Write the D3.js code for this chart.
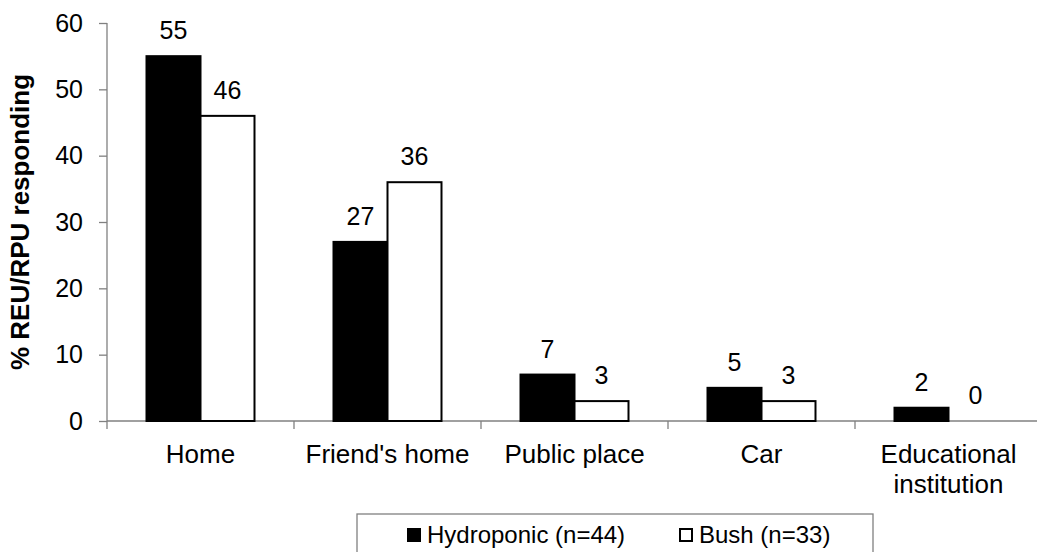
<!DOCTYPE html>
<html lang="en">
<head>
    <meta charset="UTF-8">
    <title>REU/RPU responding by location</title>
    <style>
        body { margin: 0; background: #fff; }
        svg text { font-family: "Liberation Sans", Arial, sans-serif; fill: #000; }
        .axis path, .axis line { stroke: #808080; stroke-width: 1.3px; }
        .axis text { font-size: 25px; }
        .value-label { font-size: 25px; text-anchor: middle; }
        .cat-label { font-size: 26px; text-anchor: middle; }
        .y-title { font-size: 26px; font-weight: bold; text-anchor: middle; }
        .legend text { font-size: 24px; }
    </style>
</head>
<body>
    <svg id="chart" width="1037" height="552"></svg>

    <script src="https://d3js.org/d3.v7.min.js"></script>
    <script>
        // Data
        const categories = ["Home", "Friend's home", "Public place", "Car", "Educational\ninstitution"];
        const hydroponic = [55, 27, 7, 5, 2];
        const bush = [46, 36, 3, 3, 0];
        const seriesNames = ["Hydroponic (n=44)", "Bush (n=33)"];
        const yTicks = [0, 10, 20, 30, 40, 50, 60];

        const series = [
            { name: seriesNames[0], values: hydroponic, fill: "#000" },
            { name: seriesNames[1], values: bush, fill: "#fff" }
        ];

        const svg = d3.select("#chart");
        const plot = { left: 107, right: 1042, top: 23, bottom: 421 };

        // Scales
        const x0 = d3.scaleBand()
            .domain(categories)
            .range([plot.left, plot.right])
            .paddingInner(0.4225)
            .paddingOuter(0.21125);
        const x1 = d3.scaleBand()
            .domain(series.map(s => s.name))
            .range([0, x0.bandwidth()]);
        const y = d3.scaleLinear().domain([0, 60]).range([plot.bottom, plot.top]);

        // Y axis
        svg.append("g")
            .attr("class", "axis")
            .attr("transform", `translate(${plot.left},0)`)
            .call(d3.axisLeft(y).tickValues(yTicks).tickSize(8).tickPadding(16).tickSizeOuter(0))
            .call(g => g.select(".domain").attr("d", `M0,${plot.top}V${plot.bottom}`));

        // X axis line + category boundary ticks
        const step = x0.step();
        const xAxis = svg.append("g").attr("class", "axis");
        xAxis.append("path")
            .attr("d", `M${plot.left},${plot.bottom}H${plot.right}`);
        xAxis.selectAll("line")
            .data(categories)
            .join("line")
            .attr("x1", d => x0(d) - step * x0.paddingInner() / 2)
            .attr("x2", d => x0(d) - step * x0.paddingInner() / 2)
            .attr("y1", plot.bottom)
            .attr("y2", plot.bottom + 8);

        // Bars
        series.forEach(s => {
            svg.append("g")
                .selectAll("rect")
                .data(categories)
                .join("rect")
                .attr("x", d => x0(d) + x1(s.name))
                .attr("y", (d, i) => y(s.values[i]))
                .attr("width", x1.bandwidth())
                .attr("height", (d, i) => plot.bottom - y(s.values[i]))
                .attr("fill", s.fill)
                .attr("stroke", "#000")
                .attr("stroke-width", 2);

            svg.append("g")
                .selectAll("text")
                .data(categories)
                .join("text")
                .attr("class", "value-label")
                .attr("x", d => x0(d) + x1(s.name) + x1.bandwidth() / 2)
                .attr("y", (d, i) => y(s.values[i]) - 17)
                .text((d, i) => s.values[i]);
        });

        // Category labels
        const catText = svg.append("g")
            .selectAll("text")
            .data(categories)
            .join("text")
            .attr("class", "cat-label")
            .attr("x", d => x0(d) + x0.bandwidth() / 2)
            .attr("y", 463);
        catText.selectAll("tspan")
            .data(d => d.split("\n"))
            .join("tspan")
            .attr("x", function () { return d3.select(this.parentNode).attr("x"); })
            .attr("dy", (d, i) => i === 0 ? 0 : 30)
            .text(d => d);

        // Y title
        svg.append("text")
            .attr("class", "y-title")
            .attr("transform", `translate(29,${(plot.top + plot.bottom) / 2}) rotate(-90)`)
            .text("% REU/RPU responding");

        // Legend
        const legend = svg.append("g").attr("class", "legend");
        legend.append("rect")
            .attr("x", 357).attr("y", 514)
            .attr("width", 516).attr("height", 50)
            .attr("fill", "none")
            .attr("stroke", "#808080")
            .attr("stroke-width", 1.3);
        const legendX = [408, 680];
        series.forEach((s, i) => {
            legend.append("rect")
                .attr("x", legendX[i]).attr("y", 529)
                .attr("width", 12).attr("height", 12)
                .attr("fill", s.fill)
                .attr("stroke", "#000")
                .attr("stroke-width", 2);
            legend.append("text")
                .attr("x", legendX[i] + 19)
                .attr("y", 543)
                .text(s.name);
        });
    </script>
</body>
</html>
